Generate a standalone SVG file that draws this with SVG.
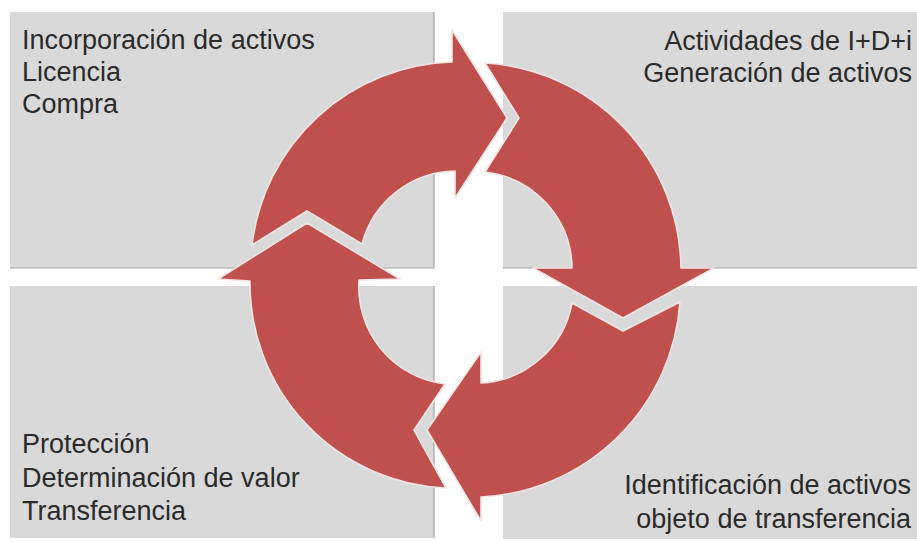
<svg xmlns="http://www.w3.org/2000/svg" width="917" height="542" viewBox="0 0 917 542">
  <style>
    .panel { fill: #d9d9d9; }
    .edge { stroke: #a3a3a3; stroke-width: 1.2; fill: none; }
    .lbl { font-family: "Liberation Sans", Arial, sans-serif; font-size: 27px; fill: #2b2b2b; }
    .r { text-anchor: end; }
    .arrow { fill: #c0504d; stroke: #f6e4e3; stroke-width: 1.6; stroke-linejoin: round; }
  </style>
  <rect x="0" y="0" width="917" height="542" fill="#ffffff"/>

  <g id="panel-top-left">
    <rect class="panel" x="10" y="12" width="424" height="256"/>
    <path class="edge" d="M434,12 V268 H10"/>
    <text class="lbl" x="22" y="49">Incorporación de activos</text>
    <text class="lbl" x="22" y="81">Licencia</text>
    <text class="lbl" x="22" y="113">Compra</text>
  </g>

  <g id="panel-top-right">
    <rect class="panel" x="503" y="12" width="414" height="256"/>
    <path class="edge" d="M503,268 H917"/>
    <text class="lbl r" x="912" y="50">Actividades de I+D+i</text>
    <text class="lbl r" x="912" y="82">Generación de activos</text>
  </g>

  <g id="panel-bottom-left">
    <rect class="panel" x="10" y="286" width="424" height="252"/>
    <path class="edge" d="M434,286 V538"/>
    <text class="lbl" x="22" y="453">Protección</text>
    <text class="lbl" x="22" y="487">Determinación de valor</text>
    <text class="lbl" x="22" y="520">Transferencia</text>
  </g>

  <g id="panel-bottom-right">
    <rect class="panel" x="503" y="286" width="414" height="253"/>
    <text class="lbl r" x="911" y="494">Identificación de activos</text>
    <text class="lbl r" x="911" y="528">objeto de transferencia</text>
  </g>

  <g id="connectors">
    <path id="arrow-top" class="arrow" d="M252,245 A208,208 0 0 1 452,62 L452,30 L507,118 L455,198 L455,171 A98,98 0 0 0 362,244 L307,211 Z"/>
    <path id="arrow-right" class="arrow" d="M485,63 A208,208 0 0 1 681,268 L714,268 L623,318 L533,268 L572,268 A98,98 0 0 0 485,172 L519,118 Z"/>
    <path id="arrow-bottom" class="arrow" d="M680,302 A210,210 0 0 1 481,497 L481,521 L427,430 L481,352 L481,383 A98,98 0 0 0 572,303 L623,331 Z"/>
    <path id="arrow-left" class="arrow" d="M446,488 A205,205 0 0 1 250,281 L218,279 L307,223 L400,279 L359,280 A98,98 0 0 0 445,384 L414,430 Z"/>
  </g>
</svg>
